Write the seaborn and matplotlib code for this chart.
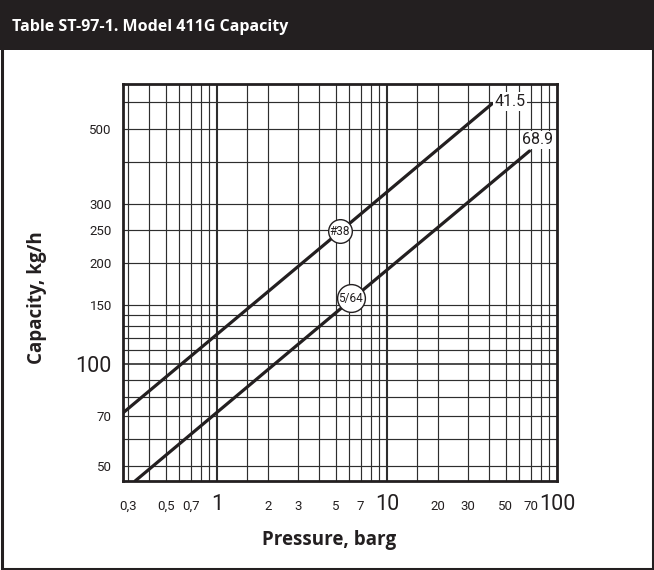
import matplotlib
matplotlib.use("Agg")
import matplotlib.pyplot as plt
from matplotlib.patches import Rectangle
import seaborn as sns
import pandas as pd

# ---- data ----
title = "Table ST-97-1. Model 411G Capacity"
x_label = "Pressure, barg"
y_label = "Capacity, kg/h"

series_names = ["#38", "5/64"]
pressure_38 = [0.28, 5.29, 41.5]
capacity_38 = [71.7, 248, 594]
pressure_564 = [0.33, 6.12, 68.9]
capacity_564 = [45, 155, 430]

end_labels = ["41.5", "68.9"]
end_label_x = [52.9, 76.4]
end_label_y = [603, 464]
circle_x = [5.29, 6.12]
circle_y = [248, 157]

x_tick_vals = [0.3, 0.5, 0.7, 1, 2, 3, 5, 7, 10, 20, 30, 50, 70, 100]
x_tick_text = ["0,3", "0,5", "0,7", "1", "2", "3", "5", "7", "10", "20", "30", "50", "70", "100"]
x_big = ["1", "10", "100"]
y_tick_vals = [50, 70, 100, 150, 200, 250, 300, 500]
y_tick_text = ["50", "70", "100", "150", "200", "250", "300", "500"]
y_big = ["100"]

x_grid = [0.3, 0.4, 0.5, 0.6, 0.7, 0.8, 0.9, 1, 1.5, 2, 3, 4, 5, 6, 7, 8, 9,
          10, 15, 20, 30, 40, 50, 60, 70, 80, 90, 100]
y_grid = [50, 60, 70, 80, 90, 100, 110, 120, 130, 140, 150, 200, 250, 300, 400, 500, 600]
x_heavy = [1, 10]
y_heavy = [100]
x_limits = (0.28, 100)
y_limits = (45, 680)

# ---- build ----
sns.set_style("white")
narrow = ["Liberation Sans Narrow", "Roboto", "DejaVu Sans"]
bold_font = ["Open Sans", "DejaVu Sans"]
INK = "#231f20"

df = pd.DataFrame({
    "pressure": pressure_38 + pressure_564,
    "capacity": capacity_38 + capacity_564,
    "orifice": [series_names[0]] * len(pressure_38) + [series_names[1]] * len(pressure_564),
})

W, H = 654, 570
fig = plt.figure(figsize=(W / 100, H / 100), dpi=100)
ax = fig.add_axes([123 / W, 1 - 481 / H, 434 / W, 397 / H])
ax.set_xscale("log")
ax.set_yscale("log")
ax.set_xlim(*x_limits)
ax.set_ylim(*y_limits)

# grid
for gx in x_grid:
    ax.axvline(gx, color="#2e2e2e", lw=1.5 if gx in x_heavy else 0.85, zorder=1)
for gy in y_grid:
    ax.axhline(gy, color="#2e2e2e", lw=1.2 if gy in y_heavy else 0.85, zorder=1)

sns.lineplot(data=df, x="pressure", y="capacity", hue="orifice",
             palette=[INK, INK], lw=2.3, legend=False, ax=ax, zorder=3,
             sort=False, estimator=None)

# circle markers with labels
sizes = [290, 400]
for cx, cy, name, s in zip(circle_x, circle_y, series_names, sizes):
    ax.scatter([cx], [cy], s=s, facecolor="white", edgecolor=INK, linewidth=1.0, zorder=4)
    ax.text(cx, cy, name, ha="center", va="center", fontsize=8.5, family=narrow,
            fontstretch="condensed", color=INK, zorder=5)

for lx, ly, t in zip(end_label_x, end_label_y, end_labels):
    ax.text(lx, ly, t, ha="center", va="center", fontsize=11.5, family=narrow,
            fontstretch="condensed", color=INK,
            zorder=5, bbox=dict(boxstyle="square,pad=0.1", fc="white", ec="none"))

# ticks
ax.set_xticks(x_tick_vals)
ax.set_xticklabels(x_tick_text)
ax.set_yticks(y_tick_vals)
ax.set_yticklabels(y_tick_text)
ax.minorticks_off()
ax.tick_params(axis="both", length=0)
ax.tick_params(axis="x", pad=21)
ax.tick_params(axis="y", pad=8)
for lab in ax.get_xticklabels():
    lab.set_family(narrow)
    lab.set_fontstretch("condensed")
    lab.set_color(INK)
    lab.set_verticalalignment("baseline")
    lab.set_fontsize(15.5 if lab.get_text() in x_big else 9.5)
for lab in ax.get_yticklabels():
    lab.set_family(narrow)
    lab.set_fontstretch("condensed")
    lab.set_color(INK)
    lab.set_fontsize(15.5 if lab.get_text() in y_big else 9.5)
ax.set_xlabel("")
ax.set_ylabel("")

for sp in ax.spines.values():
    sp.set_color(INK)
    sp.set_linewidth(2)
    sp.set_zorder(6)

# axis titles
fig.text(329 / W, 1 - 540 / H, x_label, ha="center", va="center", fontsize=13.5,
         fontweight="bold", family=bold_font, color=INK)
fig.text(37 / W, 1 - 298 / H, y_label, ha="center", va="center", rotation=90,
         fontsize=13.5, fontweight="bold", family=bold_font, color=INK)

# title bar and frame
fig.patches.append(Rectangle((0, 1 - 50 / H), 1, 50 / H, transform=fig.transFigure,
                             facecolor=INK, edgecolor="none", zorder=0))
fig.patches.append(Rectangle((1.5 / W, 1.5 / H), (W - 3) / W, (H - 3) / H,
                             transform=fig.transFigure, facecolor="none",
                             edgecolor=INK, linewidth=2.2, zorder=10))
fig.text(12 / W, 1 - 27 / H, title, ha="left", va="center", fontsize=11.5,
         fontweight="bold", family=bold_font, color="white")

fig.savefig("out.png", dpi=100)
